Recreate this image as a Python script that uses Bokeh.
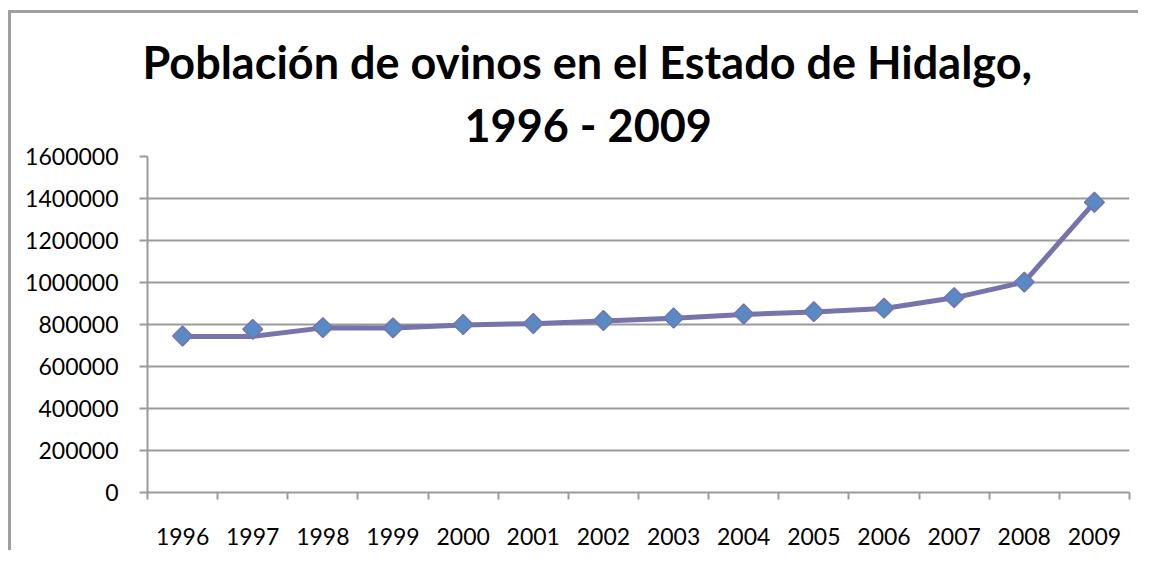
import numpy as np
from bokeh.plotting import figure
from bokeh.models import (FixedTicker, BasicTickFormatter, Title, Range1d,
                          ColumnDataSource)
from bokeh.embed import file_html
from bokeh.resources import INLINE

# ---- data ----
years = [1996, 1997, 1998, 1999, 2000, 2001, 2002, 2003, 2004, 2005, 2006, 2007, 2008, 2009]
line_values = [743000, 743000, 784000, 783000, 798000, 804000, 817000, 830000, 848000, 860000, 876000, 927000, 1002000, 1382000]
marker_values = [745000, 777000, 785000, 784000, 800000, 805000, 819000, 831000, 850000, 861000, 878000, 928000, 1002000, 1382000]
y_ticks = [0, 200000, 400000, 600000, 800000, 1000000, 1200000, 1400000, 1600000]
title_line1 = "Población de ovinos en el Estado de Hidalgo,"
title_line2 = "1996 - 2009"

# canvas origin expected at (11, 13) in the window
OX, OY = 11, 13
W, H = 1130, 540
FONT = "Lato"
GRID = "#9a9a9a"

p = figure(width=W, height=H, output_backend="svg", toolbar_location=None,
           title=None,
           x_range=Range1d(years[0] - 0.5, years[-1] + 0.5),
           y_range=Range1d(y_ticks[0], y_ticks[-1]),
           min_border_left=147 - OX, min_border_right=W - (1129 - OX),
           min_border_top=156 - OY, min_border_bottom=H - (492 - OY))
# chart-area frame: visible top and left edges
p.styles = {"box-shadow": "-3px -3px 0px 0px #a0a0a0",
            "background-color": "white",
            "margin-left": f"{OX}px", "margin-top": f"{OY}px"}
p.outline_line_color = None
p.background_fill_color = "white"
p.border_fill_color = "white"

# titles (first added sits closest to the plot); left-aligned with offsets
# so that both lines are centred about x=586 as in the reference
p.add_layout(Title(text=title_line2, align="left", text_font=FONT,
                   text_font_size="45px", text_font_style="bold",
                   text_color="black", standoff=10, offset=317), "above")
p.add_layout(Title(text=title_line1, align="left", text_font=FONT,
                   text_font_size="45px", text_font_style="bold",
                   text_color="black", standoff=4, offset=-5), "above")

# x axis: labels at category centres, tick marks at boundaries
xa = p.xaxis[0]
xa.ticker = FixedTicker(ticks=years, minor_ticks=[y - 0.5 for y in years] + [years[-1] + 0.5])
xa.formatter = BasicTickFormatter(use_scientific=False)
xa.major_tick_out = 0
xa.major_tick_in = 0
xa.minor_tick_out = 7
xa.minor_tick_in = 0
xa.minor_tick_line_color = GRID
xa.minor_tick_line_width = 2
xa.axis_line_color = GRID
xa.axis_line_width = 2
xa.major_label_standoff = 28
xa.major_label_text_font = FONT
xa.major_label_text_font_size = "23px"
xa.major_label_text_color = "black"

ya = p.yaxis[0]
ya.ticker = FixedTicker(ticks=y_ticks, minor_ticks=[])
ya.formatter = BasicTickFormatter(use_scientific=False)
ya.major_tick_out = 8
ya.major_tick_in = 0
ya.major_tick_line_color = GRID
ya.major_tick_line_width = 2
ya.axis_line_color = GRID
ya.axis_line_width = 2
ya.major_label_standoff = 21
ya.major_label_text_font = FONT
ya.major_label_text_font_size = "23px"
ya.major_label_text_color = "black"

p.xgrid.grid_line_color = None
p.ygrid.grid_line_color = GRID
p.ygrid.grid_line_width = 2
p.ygrid.ticker = FixedTicker(ticks=y_ticks[1:])

src_line = ColumnDataSource(dict(x=years, y=line_values))
src_pts = ColumnDataSource(dict(x=years, y=marker_values))
p.line("x", "y", source=src_line, line_color="#7674aa", line_width=5, line_join="round")
p.scatter("x", "y", source=src_pts, marker="square", angle=np.pi / 4, size=14,
          fill_color="#5a8ac6", line_color="#7674aa", line_width=1.5)

open("out.html", "w").write(file_html(p, INLINE))
